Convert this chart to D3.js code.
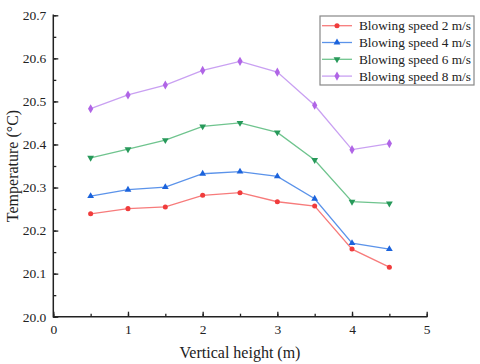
<!DOCTYPE html>
<html>
<head>
<meta charset="utf-8">
<script src="https://cdn.jsdelivr.net/npm/d3@7"></script>
<style>
  body { margin: 0; background: #fff; }
  svg { display: block; font-family: "Liberation Serif", "Times New Roman", serif; }
</style>
</head>
<body>
<svg width="480" height="364"></svg>
<script>
var heights = [0.5, 1, 1.5, 2, 2.5, 3, 3.5, 4, 4.5];
var speed2 = [20.239, 20.251, 20.255, 20.282, 20.288, 20.267, 20.257, 20.157, 20.115];
var speed4 = [20.280, 20.295, 20.301, 20.332, 20.337, 20.326, 20.274, 20.171, 20.157];
var speed6 = [20.369, 20.389, 20.410, 20.442, 20.450, 20.428, 20.364, 20.267, 20.263];
var speed8 = [20.483, 20.515, 20.538, 20.572, 20.593, 20.568, 20.491, 20.388, 20.402];
var seriesNames = ["Blowing speed 2 m/s", "Blowing speed 4 m/s", "Blowing speed 6 m/s", "Blowing speed 8 m/s"];
var xTicks = [0, 1, 2, 3, 4, 5];
var yTicks = [20.0, 20.1, 20.2, 20.3, 20.4, 20.5, 20.6, 20.7];

var serif = "'Liberation Serif', 'Times New Roman', serif";
var series = [
    { name: seriesNames[0], values: speed2, line: "#f77b7b", fill: "#f03c3c", symbol: d3.symbolCircle, size: 20 },
    { name: seriesNames[1], values: speed4, line: "#5b93ea", fill: "#1b63dc", symbol: d3.symbolTriangle, size: 20 },
    { name: seriesNames[2], values: speed6, line: "#6fc48e", fill: "#27995a", symbol: d3.symbolTriangle, size: 20, flip: true },
    { name: seriesNames[3], values: speed8, line: "#c9a0f2", fill: "#b065e6", symbol: d3.symbolDiamond, size: 24 }
];

var svg = d3.select("svg");
var mLeft = 53.3, mRight = 426.7, mTop = 15.3, mBottom = 316.7;

var x = d3.scaleLinear().domain([0, 5]).range([mLeft, mRight]);
var y = d3.scaleLinear().domain([20.0, 20.7]).range([mBottom, mTop]);

// minor ticks first, then major ticks with labels
var gx = svg.append("g").attr("transform", "translate(0," + mBottom + ")");
gx.append("g").call(d3.axisBottom(x).tickValues(d3.range(0, 5.01, 0.5)).tickSize(-3).tickFormat(""));
gx.append("g").call(d3.axisBottom(x).tickValues(xTicks).tickSize(-5).tickFormat(d3.format("d")));
gx.selectAll(".domain").remove();
gx.selectAll("line").attr("stroke", "#222").attr("stroke-width", 1.3);
gx.selectAll("text").style("font-family", serif).attr("font-size", 13.5).attr("fill", "#222").attr("dy", "0.71em").attr("y", 8);

var gy = svg.append("g").attr("transform", "translate(" + mLeft + ",0)");
gy.append("g").call(d3.axisLeft(y).tickValues(d3.range(0, 15).map(function (i) { return 20 + i * 0.05; })).tickSize(-3).tickFormat(""));
gy.append("g").call(d3.axisLeft(y).tickValues(yTicks).tickSize(-5).tickPadding(7).tickFormat(d3.format(".1f")));
gy.selectAll(".domain").remove();
gy.selectAll("line").attr("stroke", "#222").attr("stroke-width", 1.3);
gy.selectAll("text").style("font-family", serif).attr("font-size", 13.5).attr("fill", "#222");

svg.append("line").attr("x1", mLeft).attr("x2", mRight + 0.7).attr("y1", mBottom).attr("y2", mBottom)
    .attr("stroke", "#222").attr("stroke-width", 1.5);
svg.append("line").attr("x1", mLeft).attr("x2", mLeft).attr("y1", mTop - 0.7).attr("y2", mBottom + 0.7)
    .attr("stroke", "#222").attr("stroke-width", 1.5);

var line = d3.line()
    .x(function (d, i) { return x(heights[i]); })
    .y(function (d) { return y(d); });

function marker(g, s, cx, cy) {
    g.append("path")
        .attr("d", d3.symbol().type(s.symbol).size(s.size)())
        .attr("transform", "translate(" + cx + "," + cy + ")" + (s.flip ? " rotate(180)" : ""))
        .attr("fill", s.fill);
}

series.forEach(function (s) {
    svg.append("path").datum(s.values)
        .attr("fill", "none").attr("stroke", s.line).attr("stroke-width", 1.3)
        .attr("d", line);
    var g = svg.append("g");
    s.values.forEach(function (v, i) { marker(g, s, x(heights[i]), y(v)); });
});

// legend
var lg = svg.append("g");
lg.append("rect").attr("x", 320).attr("y", 16).attr("width", 154).attr("height", 69)
    .attr("fill", "#fff").attr("stroke", "#888").attr("stroke-width", 1.2);
series.forEach(function (s, i) {
    var ly = 25.7 + i * 16.8;
    lg.append("line").attr("x1", 322).attr("x2", 352).attr("y1", ly).attr("y2", ly)
        .attr("stroke", s.line).attr("stroke-width", 1.3);
    marker(lg, s, 337, ly);
    lg.append("text").attr("x", 359).attr("y", ly).attr("dy", "0.35em")
        .attr("font-size", 13.3).attr("fill", "#222").text(s.name);
});

svg.append("text").attr("transform", "translate(18," + ((mTop + mBottom) / 2) + ") rotate(-90)")
    .attr("text-anchor", "middle").attr("font-size", 16).attr("fill", "#222")
    .text("Temperature (°C)");
svg.append("text").attr("x", 240).attr("y", 358).attr("text-anchor", "middle")
    .attr("font-size", 16).attr("fill", "#222").text("Vertical height (m)");
</script>
</body>
</html>
